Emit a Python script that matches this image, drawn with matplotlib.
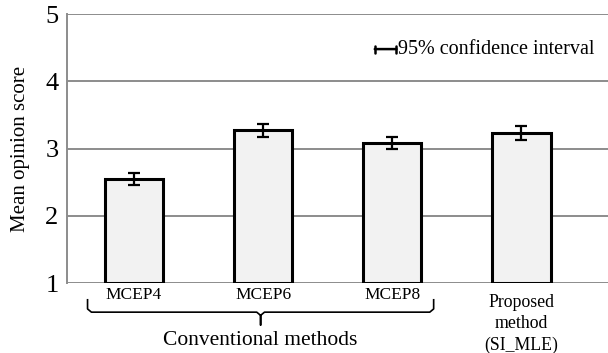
import numpy as np
import matplotlib.pyplot as plt
from matplotlib.transforms import blended_transform_factory

plt.rcParams['font.family'] = ['Liberation Serif', 'DejaVu Serif']

# Daten
labels = ["MCEP4", "MCEP6", "MCEP8", "Proposed\nmethod\n(SI_MLE)"]
scores = [2.55, 3.27, 3.08, 3.23]
ci = [0.09, 0.10, 0.09, 0.10]
group_label = "Conventional methods"

grid_col = '#8c8c8c'

fig = plt.figure(figsize=(6.08, 3.53), dpi=100)
ax = fig.add_axes([0.110, 0.198, 0.890, 0.762])

x = np.arange(len(labels))
ax.bar(x, np.array(scores) - 1, bottom=1, width=0.45, color='#f2f2f2',
       edgecolor='black', linewidth=2.2, zorder=2)
ax.errorbar(x, scores, yerr=ci, fmt='none', ecolor='black', elinewidth=1.6,
            capsize=4, capthick=1.6, zorder=3)

# Achsen
ax.set_ylim(1, 5)
ax.set_xlim(-0.52, 3.67)
ax.set_yticks([1, 2, 3, 4, 5])
ax.tick_params(axis='y', labelsize=19, length=0, pad=6)
ax.set_xticks(x[:3])
ax.set_xticklabels(labels[:3], fontsize=12.5)
ax.tick_params(axis='x', length=0, pad=3)
ax.grid(axis='y', color=grid_col, linewidth=1.4, zorder=0)
for s in ['top', 'right', 'bottom']:
    ax.spines[s].set_visible(False)
ax.spines['left'].set_color(grid_col)
ax.spines['left'].set_linewidth(1.4)
ax.set_ylabel("Mean opinion score", fontsize=15, labelpad=11)

# Vorgeschlagene Methode als mehrzeiliger Text
trans = blended_transform_factory(ax.transData, ax.transAxes)
ax.text(x[3], -0.04, labels[3], transform=trans, ha='center', va='top',
        fontsize=12.8, linespacing=1.32)

# Geschweifte Klammer unter den konventionellen Methoden
x0, x1, xc = -0.36, 2.32, 0.98
yt, ym, yb = -0.062, -0.108, -0.156
r = 0.03
bx = [x0, x0, x0 + r, xc - r, xc, xc, xc, xc + r, x1 - r, x1, x1]
by = [yt, ym + 0.012, ym, ym, ym - 0.012, yb, ym - 0.012, ym, ym, ym + 0.012, yt]
ax.plot(bx, by, transform=trans, color='black', linewidth=1.2,
        clip_on=False, solid_joinstyle='round')
ax.text(xc, -0.212, group_label, transform=trans, ha='center', va='center',
        fontsize=15.5)

# Legende fuer Konfidenzintervall
ax.annotate('', xy=(0.569, 0.870), xytext=(0.609, 0.870),
            xycoords='axes fraction', textcoords='axes fraction',
            arrowprops=dict(arrowstyle='|-|,widthA=0.25,widthB=0.25',
                            color='black', linewidth=1.8,
                            shrinkA=0, shrinkB=0))
ax.text(0.611, 0.870, "95% confidence interval", transform=ax.transAxes,
        ha='left', va='center', fontsize=14.5)

plt.savefig("out.png", dpi=100)
